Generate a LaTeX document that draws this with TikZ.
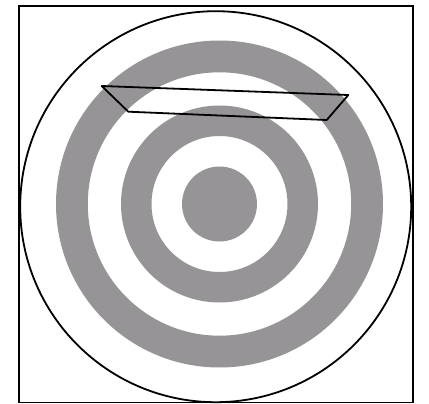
\documentclass[tikz,border=0pt]{standalone}
\definecolor{ringgray}{RGB}{150,148,150}
\tikzset{outline/.style={draw=black,line width=1.8pt},
ring/.style={fill=ringgray,even odd rule}}
\begin{document}
\begin{tikzpicture}[x=1pt,y=-1pt]
\useasboundingbox (0,0) rectangle (429,404);
\coordinate (c) at (219.5,204);
\fill[ring] (c) circle (163.5) (c) circle (131.7);
\fill[ring] (c) circle (98.5) (c) circle (68);
\fill[ringgray] (c) circle (37.5);
\draw[outline] (18.7,5.7) rectangle (413,402.5);
\draw[outline] (215.7,206.7) circle (195.5);
\coordinate (p1) at (101.7,86);
\coordinate (p2) at (348.3,95);
\coordinate (p3) at (326.7,120);
\coordinate (p4) at (128.3,111.7);
\draw[outline,line join=round] (p1) -- (p2) -- (p3) -- (p4) -- cycle;
\end{tikzpicture}
\end{document}
